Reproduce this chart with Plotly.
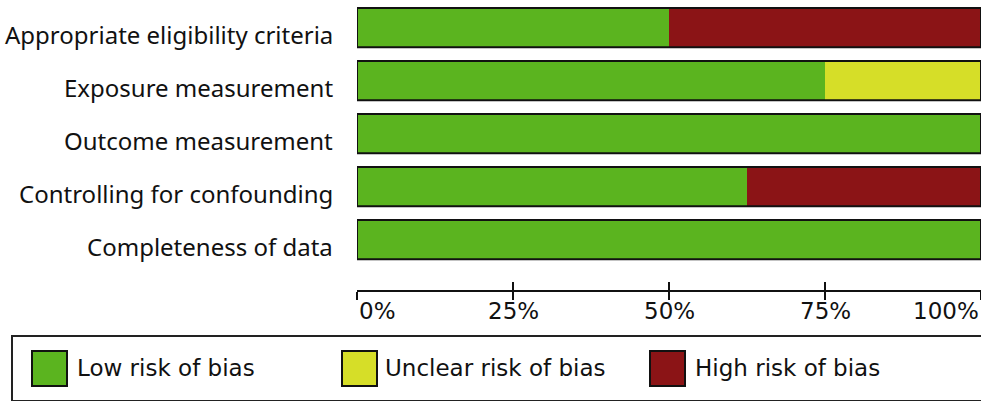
import plotly.graph_objects as go

categories = [
    "Appropriate eligibility criteria",
    "Exposure measurement",
    "Outcome measurement",
    "Controlling for confounding",
    "Completeness of data",
]
series_names = ["Low risk of bias", "Unclear risk of bias", "High risk of bias"]
low_risk = [50, 75, 100, 62.5, 100]
unclear_risk = [0, 25, 0, 0, 0]
high_risk = [50, 0, 0, 37.5, 0]
tick_values = [0, 25, 50, 75, 100]
tick_labels = ["0%", "25%", "50%", "75%", "100%"]

colors = ["#5BB41F", "#D6DE28", "#8B1416"]

W, H = 981, 401
L, R, T, B = 357, 0, 1, 111
PW, PH = W - L - R, H - T - B


def px_x(px):
    return (px - L) / PW


def px_y(py):
    return (H - B - py) / PH


fig = go.Figure()
series = [low_risk, unclear_risk, high_risk]
base = [0] * len(categories)
for name, vals, col in zip(series_names, series, colors):
    fig.add_trace(go.Bar(
        y=categories, x=vals, base=base, orientation="h", name=name,
        marker=dict(color=col, line=dict(width=0)), width=0.74,
        hoverinfo="skip", showlegend=False,
    ))
    base = [b + v for b, v in zip(base, vals)]

# outline around each bar
fig.add_trace(go.Bar(
    y=categories, x=base, base=[0] * len(categories), orientation="h",
    marker=dict(color="rgba(0,0,0,0)", line=dict(width=2, color="#111111")),
    width=0.74, hoverinfo="skip", showlegend=False,
))

fig.update_layout(
    width=W, height=H,
    margin=dict(l=L, r=R, t=T, b=B, pad=0),
    plot_bgcolor="white", paper_bgcolor="white",
    barmode="overlay",
    showlegend=False,
    xaxis=dict(
        range=[0, 100], tickvals=tick_values, showticklabels=False,
        ticks="outside", ticklen=8, tickwidth=2, tickcolor="#111111",
        showline=True, linewidth=2, linecolor="#111111",
        showgrid=False, zeroline=False, fixedrange=True,
    ),
    xaxis2=dict(
        range=[0, 100], overlaying="x", anchor="y", side="bottom",
        tickvals=tick_values, showticklabels=False,
        ticks="inside", ticklen=8, tickwidth=2, tickcolor="#111111",
        showline=False, showgrid=False, zeroline=False,
    ),
    yaxis=dict(
        categoryorder="array", categoryarray=categories,
        range=[4.95, -0.5], showgrid=False, zeroline=False, showline=False,
        ticks="", showticklabels=False,
    ),
)

# dummy trace so xaxis2 is drawn
fig.add_trace(go.Scatter(x=[0], y=[categories[0]], xaxis="x2", mode="markers",
                         marker=dict(opacity=0), hoverinfo="skip", showlegend=False))

# category labels (slightly below bar centre, as in the reference)
for c in categories:
    fig.add_annotation(
        x=px_x(335), xref="paper", y=c, yref="y", yanchor="middle", yshift=-7,
        xanchor="right", text=c, showarrow=False,
        font=dict(family="Noto Sans", size=24, color="#111111"),
    )

# tick labels
anchors = ["left", "center", "center", "center", "right"]
for v, lab, a in zip(tick_values, tick_labels, anchors):
    fig.add_annotation(
        x=v, xref="x", y=0, yref="paper", yanchor="middle", yshift=-21,
        xanchor=a, text=lab, showarrow=False,
        font=dict(family="DejaVu Sans", size=23, color="#111111"),
    )

# legend box
fig.add_shape(type="rect", xref="paper", yref="paper",
              x0=px_x(12), x1=px_x(1000), y0=px_y(336), y1=px_y(401),
              line=dict(color="#222222", width=2), fillcolor="white", layer="below")

swatch_x = [32, 342, 650]
text_x = [75, 383, 693]
for name, col, sx, tx in zip(series_names, colors, swatch_x, text_x):
    fig.add_shape(type="rect", xref="paper", yref="paper",
                  x0=px_x(sx), x1=px_x(sx + 35), y0=px_y(351), y1=px_y(386),
                  line=dict(color="#111111", width=2), fillcolor=col)
    fig.add_annotation(
        x=px_x(tx), xref="paper", y=px_y(368), yref="paper",
        xanchor="left", yanchor="middle", text=name, showarrow=False,
        font=dict(family="DejaVu Sans", size=23, color="#111111"),
    )

fig.write_html(
    "out.html",
    config={"displayModeBar": False, "staticPlot": True},
    post_script="document.body.style.margin='0';document.body.style.overflow='hidden';",
)
